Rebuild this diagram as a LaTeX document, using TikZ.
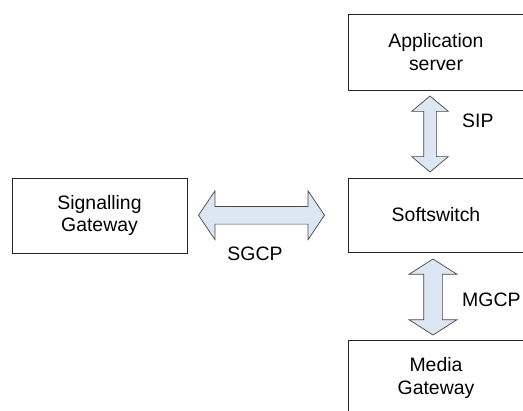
\documentclass[tikz,border=0pt]{standalone}
\usepackage{fontspec}
\setmainfont{Liberation Sans}
\usetikzlibrary{shapes.arrows,calc}
\definecolor{boxline}{RGB}{35,35,35}
\definecolor{arrowfill}{RGB}{221,231,244}
\definecolor{arrowline}{RGB}{70,70,70}

\begin{document}
\begin{tikzpicture}[x=1bp,y=1bp,font=\fontsize{19.5}{23}\selectfont,
  unit/.style={draw=boxline,line width=0.8bp,minimum width=176bp,minimum height=76bp,align=center,inner sep=0pt},
  proto/.style={double arrow,draw=arrowline,fill=arrowfill,line width=0.7bp,inner xsep=0pt,double arrow head indent=0pt}]
  \useasboundingbox (0,0) rectangle (523,410);
  % boxes
  \node[unit,minimum width=175bp,minimum height=75bp] (sg) at (99.5,194.5) {Signalling\\Gateway};
  \node[unit] (app) at (436,358) {Application\\server};
  \node[unit,minimum height=74bp] (soft) at (436,195) {Softswitch};
  \node[unit] (mg) at (436,32) {Media\\Gateway};
  % protocol arrows
  \node[proto,minimum height=126bp,inner ysep=8.5bp,double arrow head extend=15.5bp,double arrow tip angle=112] (sgcp) at ($(sg.east)!0.5!(soft.west)+(-6,0)$) {};
  \node[proto,rotate=90,minimum height=76bp,inner ysep=6bp,double arrow head extend=12bp,double arrow tip angle=100] (sip) at ($(app.south)!0.5!(soft.north)+(-6,0)$) {};
  \node[proto,rotate=90,minimum height=76bp,inner ysep=9bp,double arrow head extend=14.5bp,double arrow tip angle=115] (mgcp) at ($(soft.south)!0.5!(mg.north)+(-3,-1)$) {};
  \node (sgcplabel) at (255,156) {SGCP};
  \node[anchor=west,inner sep=0pt] (siplabel) at (462,289) {SIP};
  \node[anchor=west,inner sep=0pt] (mgcplabel) at (462,110) {MGCP};
\end{tikzpicture}
\end{document}
